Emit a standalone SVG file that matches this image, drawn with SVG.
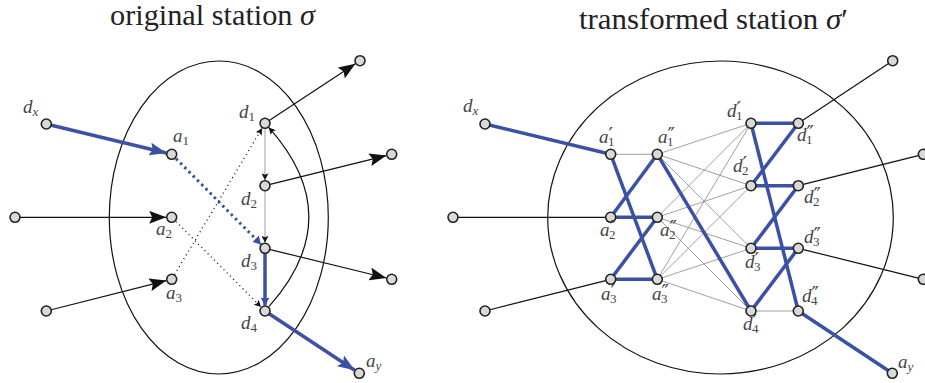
<svg xmlns="http://www.w3.org/2000/svg" width="925" height="383" viewBox="0 0 925 383">
<style>
.title{font-family:"Liberation Serif",serif;font-size:29px;fill:#222}
.lbl{font-family:"Liberation Serif",serif;font-style:italic;font-size:19px;fill:#444}
.sub{font-size:13px;font-style:normal}
.isub{font-size:13px;font-style:italic}
.pr{font-family:"DejaVu Serif",serif;font-size:20px;font-style:normal}
.blk{stroke:#111;stroke-width:1.2;fill:none}
.gry{stroke:#888;stroke-width:0.8;fill:none}
.blu{stroke:#3a51a5;stroke-width:3.5;fill:none}
.node{fill:#d9d9d9;stroke:#222;stroke-width:1.6}
.ell{fill:none;stroke:#111;stroke-width:1.2}
</style>
<defs>
<marker id="bigK" markerUnits="userSpaceOnUse" markerWidth="18" markerHeight="13" refX="17" refY="6.5" orient="auto"><path d="M0,0 L17,6.5 L0,13 L3,6.5 z" fill="#111"/></marker>
<marker id="bigB" markerUnits="userSpaceOnUse" markerWidth="18" markerHeight="13" refX="17" refY="6.5" orient="auto"><path d="M0,0 L17,6.5 L0,13 L3,6.5 z" fill="#3a51a5"/></marker>
<marker id="smK" markerUnits="userSpaceOnUse" markerWidth="8" markerHeight="7" refX="7" refY="3.5" orient="auto"><path d="M0,0 L7,3.5 L0,7 L1.5,3.5 z" fill="#111"/></marker>
<marker id="smB" markerUnits="userSpaceOnUse" markerWidth="9" markerHeight="9" refX="8" refY="4.5" orient="auto"><path d="M0,0 L8,4.5 L0,9 z" fill="#3a51a5"/></marker>
</defs>

<text class="title" x="110" y="25" textLength="205" lengthAdjust="spacingAndGlyphs">original station <tspan font-style="italic">σ</tspan></text>
<text class="title" x="579" y="29" textLength="269" lengthAdjust="spacingAndGlyphs">transformed station <tspan font-style="italic">σ</tspan>′</text>

<ellipse class="ell" cx="218.8" cy="217.5" rx="109.5" ry="156.5"/>
<ellipse class="ell" cx="720.5" cy="217.5" rx="172.8" ry="156.5"/>

<g id="connectors">
<line class="blu" x1="46.3" y1="124" x2="166.4" y2="153" marker-end="url(#bigB)"/>
<line class="blk" x1="15" y1="217.3" x2="166.2" y2="217.3" marker-end="url(#bigK)"/>
<line class="blk" x1="46.3" y1="311" x2="166.4" y2="280.6" marker-end="url(#bigK)"/>
<line class="blk" x1="265" y1="123.3" x2="355.4" y2="63.7" marker-end="url(#bigK)"/>
<line class="blk" x1="265" y1="185.7" x2="386.4" y2="155.6" marker-end="url(#bigK)"/>
<line class="blk" x1="265" y1="248.3" x2="386.4" y2="278" marker-end="url(#bigK)"/>
<line class="blu" x1="265" y1="311" x2="354.7" y2="370.3" marker-end="url(#bigB)"/>
<line stroke="#3a51a5" stroke-width="3" stroke-dasharray="2.5 3.5" x1="176" y1="158.6" x2="261.1" y2="244.4" marker-end="url(#smB)"/>
<line stroke="#111" stroke-width="1.3" stroke-dasharray="1 3.5" x1="176" y1="221.6" x2="261.1" y2="307.1" marker-end="url(#smK)"/>
<line stroke="#111" stroke-width="1.3" stroke-dasharray="1 3.5" x1="174.5" y1="274.6" x2="262.2" y2="128" marker-end="url(#smK)"/>
<line class="gry" stroke-width="1" x1="265" y1="123.3" x2="265" y2="180.2" marker-end="url(#smK)"/>
<line class="gry" stroke-width="1" x1="265" y1="185.7" x2="265" y2="242.8" marker-end="url(#smK)"/>
<line class="blu" x1="265" y1="248.3" x2="265" y2="305.5" marker-end="url(#smB)"/>
<path class="blk" stroke-width="1" d="M268.7,306.9 Q349,217 268.7,127.4" marker-end="url(#smK)"/>

<g class="gry">
<line x1="610.7" y1="154.3" x2="657.3" y2="154.3"/>
<line x1="657.3" y1="154.3" x2="751" y2="123.3"/>
<line x1="657.3" y1="154.3" x2="751" y2="185.7"/>
<line x1="657.3" y1="154.3" x2="751" y2="248.3"/>
<line x1="657.3" y1="217.3" x2="751" y2="123.3"/>
<line x1="657.3" y1="217.3" x2="751" y2="185.7"/>
<line x1="657.3" y1="217.3" x2="751" y2="248.3"/>
<line x1="657.3" y1="217.3" x2="751" y2="311"/>
<line x1="657.3" y1="279.3" x2="751" y2="123.3"/>
<line x1="657.3" y1="279.3" x2="751" y2="185.7"/>
<line x1="657.3" y1="279.3" x2="751" y2="248.3"/>
<line x1="657.3" y1="279.3" x2="751" y2="311"/>
<line x1="751" y1="311" x2="798.3" y2="311"/>
</g>
<g class="blk">
<line x1="453" y1="217.3" x2="610.7" y2="217.3"/>
<line x1="485" y1="311" x2="610.7" y2="279.3"/>
<line x1="798.3" y1="123.3" x2="892.7" y2="60.7"/>
<line x1="798.3" y1="185.7" x2="923.3" y2="154.3"/>
<line x1="798.3" y1="248.3" x2="923.3" y2="279.3"/>
</g>
<g class="blu">
<line x1="485" y1="124" x2="610.7" y2="154.3"/>
<line x1="798.3" y1="311" x2="892.3" y2="373.3"/>
<line x1="610.7" y1="217.3" x2="657.3" y2="217.3"/>
<line x1="610.7" y1="279.3" x2="657.3" y2="279.3"/>
<line x1="610.7" y1="154.3" x2="657.3" y2="279.3"/>
<line x1="610.7" y1="217.3" x2="657.3" y2="154.3"/>
<line x1="610.7" y1="279.3" x2="657.3" y2="217.3"/>
<line x1="657.3" y1="154.3" x2="751" y2="311"/>
<line x1="751" y1="123.3" x2="798.3" y2="123.3"/>
<line x1="751" y1="185.7" x2="798.3" y2="185.7"/>
<line x1="751" y1="248.3" x2="798.3" y2="248.3"/>
<line x1="751" y1="123.3" x2="798.3" y2="311"/>
<line x1="751" y1="185.7" x2="798.3" y2="123.3"/>
<line x1="751" y1="248.3" x2="798.3" y2="185.7"/>
<line x1="751" y1="311" x2="798.3" y2="248.3"/>
</g>
</g>

<g id="L_dx"><circle class="node" cx="46.3" cy="124" r="5"/><text class="lbl" x="23" y="113">d<tspan class="isub" dy="3">x</tspan></text></g>
<g id="L_in2"><circle class="node" cx="15" cy="217.3" r="5"/></g>
<g id="L_in3"><circle class="node" cx="46.3" cy="311" r="5"/></g>
<g id="L_a1"><circle class="node" cx="171.7" cy="154.3" r="5"/><text class="lbl" x="173" y="142">a<tspan class="sub" dy="3">1</tspan></text></g>
<g id="L_a2"><circle class="node" cx="171.7" cy="217.3" r="5"/><text class="lbl" x="156" y="235">a<tspan class="sub" dy="3">2</tspan></text></g>
<g id="L_a3"><circle class="node" cx="171.7" cy="279.3" r="5"/><text class="lbl" x="166" y="299">a<tspan class="sub" dy="3">3</tspan></text></g>
<g id="L_d1"><circle class="node" cx="265" cy="123.3" r="5"/><text class="lbl" x="239" y="118">d<tspan class="sub" dy="3">1</tspan></text></g>
<g id="L_d2"><circle class="node" cx="265" cy="185.7" r="5"/><text class="lbl" x="241" y="205">d<tspan class="sub" dy="3">2</tspan></text></g>
<g id="L_d3"><circle class="node" cx="265" cy="248.3" r="5"/><text class="lbl" x="241" y="267">d<tspan class="sub" dy="3">3</tspan></text></g>
<g id="L_d4"><circle class="node" cx="265" cy="311" r="5"/><text class="lbl" x="241" y="329">d<tspan class="sub" dy="3">4</tspan></text></g>
<g id="L_out1"><circle class="node" cx="360" cy="60.7" r="5"/></g>
<g id="L_out2"><circle class="node" cx="391.7" cy="154.3" r="5"/></g>
<g id="L_out3"><circle class="node" cx="391.7" cy="279.3" r="5"/></g>
<g id="L_ay"><circle class="node" cx="359.3" cy="373.3" r="5"/><text class="lbl" x="366" y="367">a<tspan class="isub" dy="3">y</tspan></text></g>

<g id="R_dx"><circle class="node" cx="485" cy="124" r="5"/><text class="lbl" x="463" y="112">d<tspan class="isub" dy="3">x</tspan></text></g>
<g id="R_in2"><circle class="node" cx="453" cy="217.3" r="5"/></g>
<g id="R_in3"><circle class="node" cx="485" cy="311" r="5"/></g>
<g id="R_a1p"><circle class="node" cx="610.7" cy="154.3" r="5"/><text class="lbl" x="599" y="143">a<tspan class="pr" dy="-1">′</tspan><tspan class="sub" dx="-5" dy="4">1</tspan></text></g>
<g id="R_a1pp"><circle class="node" cx="657.3" cy="154.3" r="5"/><text class="lbl" x="658" y="143">a<tspan class="pr" dy="-1">″</tspan><tspan class="sub" dx="-8" dy="4">1</tspan></text></g>
<g id="R_a2p"><circle class="node" cx="610.7" cy="217.3" r="5"/><text class="lbl" x="600" y="236">a<tspan class="pr" dy="-1">′</tspan><tspan class="sub" dx="-5" dy="4">2</tspan></text></g>
<g id="R_a2pp"><circle class="node" cx="657.3" cy="217.3" r="5"/><text class="lbl" x="660" y="236">a<tspan class="pr" dy="-1">″</tspan><tspan class="sub" dx="-8" dy="4">2</tspan></text></g>
<g id="R_a3p"><circle class="node" cx="610.7" cy="279.3" r="5"/><text class="lbl" x="601" y="300">a<tspan class="pr" dy="-1">′</tspan><tspan class="sub" dx="-5" dy="4">3</tspan></text></g>
<g id="R_a3pp"><circle class="node" cx="657.3" cy="279.3" r="5"/><text class="lbl" x="652" y="300">a<tspan class="pr" dy="-1">″</tspan><tspan class="sub" dx="-8" dy="4">3</tspan></text></g>
<g id="R_d1p"><circle class="node" cx="751" cy="123.3" r="5"/><text class="lbl" x="727" y="117">d<tspan class="pr" dy="-1">′</tspan><tspan class="sub" dx="-5" dy="4">1</tspan></text></g>
<g id="R_d1pp"><circle class="node" cx="798.3" cy="123.3" r="5"/><text class="lbl" x="797" y="141">d<tspan class="pr" dy="-1">″</tspan><tspan class="sub" dx="-8" dy="4">1</tspan></text></g>
<g id="R_d2p"><circle class="node" cx="751" cy="185.7" r="5"/><text class="lbl" x="733" y="172">d<tspan class="pr" dy="-1">′</tspan><tspan class="sub" dx="-5" dy="4">2</tspan></text></g>
<g id="R_d2pp"><circle class="node" cx="798.3" cy="185.7" r="5"/><text class="lbl" x="804" y="203">d<tspan class="pr" dy="-1">″</tspan><tspan class="sub" dx="-8" dy="4">2</tspan></text></g>
<g id="R_d3p"><circle class="node" cx="751" cy="248.3" r="5"/><text class="lbl" x="745" y="268">d<tspan class="pr" dy="-1">′</tspan><tspan class="sub" dx="-5" dy="4">3</tspan></text></g>
<g id="R_d3pp"><circle class="node" cx="798.3" cy="248.3" r="5"/><text class="lbl" x="804" y="243">d<tspan class="pr" dy="-1">″</tspan><tspan class="sub" dx="-8" dy="4">3</tspan></text></g>
<g id="R_d4p"><circle class="node" cx="751" cy="311" r="5"/><text class="lbl" x="743" y="330">d<tspan class="pr" dy="-1">′</tspan><tspan class="sub" dx="-5" dy="4">4</tspan></text></g>
<g id="R_d4pp"><circle class="node" cx="798.3" cy="311" r="5"/><text class="lbl" x="802" y="302">d<tspan class="pr" dy="-1">″</tspan><tspan class="sub" dx="-8" dy="4">4</tspan></text></g>
<g id="R_out1"><circle class="node" cx="892.7" cy="60.7" r="5"/></g>
<g id="R_out2"><circle class="node" cx="923.3" cy="154.3" r="5"/></g>
<g id="R_out3"><circle class="node" cx="923.3" cy="279.3" r="5"/></g>
<g id="R_ay"><circle class="node" cx="892.3" cy="373.3" r="5"/><text class="lbl" x="898" y="368">a<tspan class="isub" dy="3">y</tspan></text></g>
</svg>
